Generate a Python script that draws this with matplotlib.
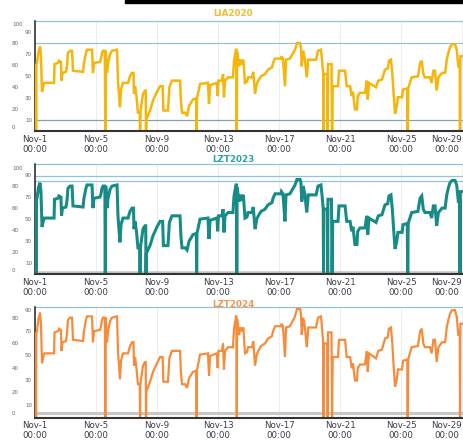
import matplotlib
matplotlib.use("Agg")
import matplotlib.pyplot as plt
from matplotlib.patches import Rectangle
import matplotlib.transforms as mtransforms

# time in days since Nov-1 00:00 (shared sampling for all three stations)
days = [0.00, 0.05, 0.07, 0.09, 0.13, 0.23, 0.33, 0.39, 0.46, 0.56, 0.62, 1.25, 1.28, 1.51, 1.57, 1.70, 1.74, 1.80,
        2.03, 2.10, 2.16, 2.30, 2.43, 2.49, 3.15, 3.21, 3.34, 3.41, 3.74, 3.80, 3.87, 4.26, 4.33, 4.39, 4.46, 4.58,
        4.61, 4.64, 4.72, 4.79, 4.92, 5.05, 5.38, 5.44, 5.57, 5.64, 5.77, 6.10, 6.23, 6.36, 6.46, 6.49, 6.56, 6.66,
        6.75, 6.87, 6.89, 6.91, 7.08, 7.21, 7.26, 7.28, 7.30, 7.54, 7.74, 8.00, 8.20, 8.37, 8.42, 8.72, 8.81, 8.98,
        9.51, 9.57, 9.64, 9.84, 9.97, 10.10, 10.36, 10.58, 10.60, 10.62, 10.82, 11.34, 11.41, 11.48, 11.93, 11.98,
        12.03, 12.26, 12.33, 12.39, 12.46, 12.66, 12.98, 13.05, 13.18, 13.21, 13.23, 13.25, 13.38, 13.46, 13.55,
        13.66, 13.77, 13.90, 13.97, 14.23, 14.31, 14.43, 14.54, 14.64, 14.82, 15.08, 15.28, 15.54, 15.61, 15.74,
        16.13, 16.16, 16.26, 16.39, 16.46, 16.72, 17.05, 17.18, 17.38, 17.44, 17.49, 17.59, 17.70, 17.82, 17.92,
        18.43, 18.56, 18.75, 18.82, 18.90, 18.92, 18.94, 19.17, 19.19, 19.21, 19.44, 19.48, 19.52, 19.87, 19.93,
        20.33, 20.44, 20.66, 20.77, 20.85, 20.98, 21.11, 21.16, 21.31, 21.64, 21.75, 21.82, 21.90, 22.36, 22.51,
        22.75, 22.95, 23.13, 23.21, 23.34, 23.43, 23.52, 23.61, 23.72, 23.80, 24.07, 24.13, 24.41, 24.44, 24.47,
        24.70, 25.11, 25.25, 25.36, 25.46, 25.57, 25.90, 26.01, 26.12, 26.23, 26.34, 26.45, 26.69, 26.89, 27.00,
        27.10, 27.21, 27.34, 27.54, 27.65, 27.76, 27.85, 27.87, 27.89, 28.13]

lia2020 = [60, 60, 0, 60, 62, 72, 77, 68, 36, 42, 44, 44, 61, 62, 64, 63, 46, 53,
           54, 60, 71, 73, 73, 55, 54, 62, 71, 74, 74, 53, 62, 63, 66, 71, 73, 73,
           0, 73, 53, 62, 70, 73, 74, 46, 22, 38, 44, 44, 50, 53, 53, 34, 41, 31,
           17, 17, 0, 17, 34, 37, 37, 0, 11, 19, 28, 36, 41, 41, 19, 19, 40, 46,
           46, 27, 17, 17, 14, 23, 29, 30, 0, 30, 43, 44, 25, 42, 44, 32,
           46, 46, 52, 31, 46, 49, 49, 64, 74, 74, 0, 72, 59, 65, 62,
           65, 44, 45, 49, 49, 54, 34, 43, 46, 50, 52, 56, 58, 62, 66,
           66, 68, 66, 41, 65, 66, 74, 80, 80, 76, 59, 73, 65, 49, 65,
           65, 73, 74, 65, 52, 0, 52, 52, 0, 61, 61, 0, 41, 41, 55,
           55, 41, 41, 32, 36, 20, 20, 32, 35, 35, 46, 29, 44, 40, 46,
           47, 56, 57, 64, 65, 52, 33, 16, 23, 31, 31, 38, 39, 0, 39,
           49, 50, 62, 64, 52, 49, 49, 44, 55, 55, 37, 49, 53, 53, 65,
           71, 76, 79, 79, 74, 59, 59, 0, 68, 68]

lzt2023 = [67, 67, 0, 67, 69, 79, 83, 75, 43, 49, 51, 51, 68, 69, 71, 70, 53, 60,
           61, 67, 78, 80, 80, 62, 61, 69, 78, 81, 81, 60, 69, 70, 73, 78, 80, 80,
           0, 80, 60, 69, 77, 80, 81, 53, 29, 45, 51, 51, 57, 60, 60, 41, 48, 38,
           24, 24, 0, 24, 41, 44, 44, 0, 19, 26, 35, 43, 48, 48, 26, 26, 47, 53,
           53, 34, 24, 24, 22, 30, 36, 37, 0, 37, 50, 51, 32, 49, 51, 39,
           53, 53, 59, 38, 53, 56, 56, 71, 81, 81, 0, 79, 66, 72, 69,
           72, 51, 52, 56, 56, 61, 41, 50, 53, 57, 59, 63, 65, 69, 73,
           73, 75, 73, 48, 72, 73, 81, 86, 86, 83, 66, 80, 72, 56, 72,
           72, 80, 81, 72, 59, 0, 59, 59, 0, 68, 68, 0, 48, 48, 62,
           62, 48, 48, 39, 43, 27, 27, 39, 42, 42, 53, 36, 51, 47, 53,
           54, 63, 64, 71, 72, 59, 40, 23, 30, 38, 38, 45, 46, 0, 46,
           56, 57, 69, 71, 59, 56, 56, 51, 62, 62, 44, 56, 60, 60, 72,
           78, 83, 85, 85, 81, 66, 66, 0, 75, 75]

lzt2024 = [68, 68, 0, 68, 70, 80, 85, 76, 44, 50, 52, 52, 69, 70, 72, 71, 54, 61,
           62, 68, 79, 81, 81, 63, 62, 70, 79, 82, 82, 61, 70, 71, 74, 79, 81, 81,
           0, 81, 61, 70, 78, 81, 82, 54, 31, 46, 52, 52, 58, 61, 61, 42, 49, 39,
           27, 27, 0, 27, 42, 45, 45, 0, 21, 29, 37, 44, 49, 49, 29, 29, 48, 54,
           54, 36, 27, 27, 24, 32, 37, 38, 0, 38, 51, 52, 34, 50, 52, 40,
           54, 54, 60, 39, 54, 57, 57, 72, 82, 82, 0, 80, 67, 73, 70,
           73, 52, 53, 57, 57, 62, 42, 51, 54, 58, 60, 64, 66, 70, 74,
           74, 76, 74, 49, 73, 74, 82, 88, 88, 84, 67, 81, 73, 57, 73,
           73, 81, 82, 73, 60, 0, 60, 60, 0, 69, 69, 0, 49, 49, 63,
           63, 49, 49, 40, 44, 30, 30, 40, 43, 43, 54, 37, 52, 48, 54,
           55, 64, 65, 72, 73, 60, 41, 25, 31, 39, 39, 46, 47, 0, 47,
           57, 58, 70, 72, 60, 57, 57, 52, 63, 63, 45, 57, 61, 61, 73,
           79, 84, 87, 87, 82, 67, 67, 0, 76, 76]

titles = ["LIA2020", "LZT2023", "LZT2024"]
series = [lia2020, lzt2023, lzt2024]
line_colors = ["#F4B60A", "#178C87", "#F58C3C"]
title_colors = ["#F2BC2A", "#2AA3A3", "#F5944E"]
ylims = [(0, 100), (0, 100), (0, 90)]
ytick_sets = [list(range(0, 101, 10)), list(range(0, 101, 10)), list(range(0, 91, 10))]
blue_lines = [[100, 80], [100, 89, 85], [90]]
gray_lines = [[10], [2.5], [4]]
gray_styles = [dict(color="#86A0AC", lw=0.9), dict(color="#C6C6C6", lw=1.9), dict(color="#C8C8C8", lw=2.3)]
line_widths = [1.8, 2.2, 1.6]
xtick_days = list(range(0, 29, 4))
xtick_labels = [f"Nov-{d + 1}\n00:00" for d in xtick_days]

W, H = 464, 440
fig = plt.figure(figsize=(W / 100, H / 100), dpi=100)
fig.patch.set_facecolor("white")

# axes boxes in pixels: (top, bottom)
boxes = [(21, 131.5), (164, 274.3), (306.5, 417.5)]
title_y = [13, 160, 304]
left_px = 35

for i in range(3):
    top, bot = boxes[i]
    ax = fig.add_axes([left_px / W, 1 - bot / H, (W - left_px) / W, (bot - top) / H])
    ax.set_xlim(0, 28.13)
    ax.set_ylim(*ylims[i])
    for sp in ["top", "right"]:
        ax.spines[sp].set_visible(False)
    ax.spines["left"].set_color("#222222")
    ax.spines["left"].set_linewidth(1.1)
    ax.spines["bottom"].set_color("#333333")
    ax.spines["bottom"].set_linewidth(1.5)
    ax.spines["bottom"].set_zorder(6)

    # faint vertical grid
    ax.set_xticks(xtick_days)
    ax.grid(axis="x", color="#EDEDED", lw=0.7)
    ax.set_axisbelow(True)

    for v in blue_lines[i]:
        ax.axhline(v, color="#93C4D6", lw=0.9, clip_on=False, zorder=2)
    for v in gray_lines[i]:
        ax.axhline(v, zorder=2, **gray_styles[i])

    ax.plot(days, series[i], color=line_colors[i], lw=line_widths[i], zorder=4,
            solid_joinstyle="miter", clip_on=True)

    # x tick labels
    ax.set_xticklabels(xtick_labels, fontsize=6.2, color="#3A3A48", linespacing=1.15)
    ax.tick_params(axis="x", length=0, pad=2.5)
    lbls = ax.get_xticklabels()
    lbls[-1].set_horizontalalignment("right")
    for lb in lbls:
        lb.set_multialignment("center")

    # y tick labels: staggered two columns, end labels pushed inside
    ax.set_yticks(ytick_sets[i])
    ax.set_yticklabels([])
    ax.tick_params(axis="y", length=0)
    ticks = ytick_sets[i]
    for k, v in enumerate(ticks):
        col_px = 12 if v % 20 == 0 else 25
        dy_px = 0
        if k == 0:
            dy_px = 4
        elif k == len(ticks) - 1:
            dy_px = -4
        ax.annotate(str(v), xy=(0, v), xycoords=("axes fraction", "data"),
                    xytext=(-(left_px - col_px) * 0.72, dy_px * 0.72), textcoords="offset points",
                    ha="left", va="center", fontsize=4.0, color="#666666", annotation_clip=False)

    fig.text(233 / W, 1 - title_y[i] / H, titles[i], color=title_colors[i], fontsize=6.3,
             fontweight="bold", ha="center", va="center", zorder=10)

# black strip along the top edge of the screenshot
fig.patches.append(Rectangle((125 / W, 1 - 3 / H), 1, 3 / H, transform=fig.transFigure,
                             color="black", zorder=20))

fig.savefig("out.png", dpi=100, facecolor="white")
